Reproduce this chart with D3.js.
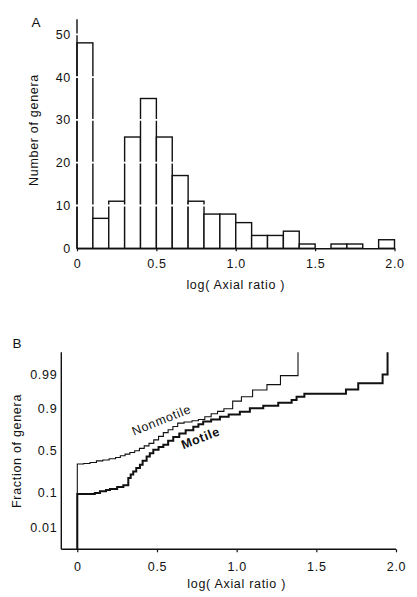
<!DOCTYPE html>
<html><head><meta charset="utf-8">
<script src="https://cdn.jsdelivr.net/npm/d3@7"></script>
<style>body{margin:0;background:#fff}svg{display:block;font-family:"Liberation Sans",Arial,Helvetica,sans-serif}svg text{letter-spacing:0.7px}</style>
</head><body><svg id="c" width="417" height="597"></svg>
<script>
// ---- Panel A data: histogram of log(axial ratio), bins of width 0.1 ----
const binStart = [0.0,0.1,0.2,0.3,0.4,0.5,0.6,0.7,0.8,0.9,1.0,1.1,1.2,1.3,1.4,1.5,1.6,1.7,1.8,1.9];
const binEnd   = [0.1,0.2,0.3,0.4,0.5,0.6,0.7,0.8,0.9,1.0,1.1,1.2,1.3,1.4,1.5,1.6,1.7,1.8,1.9,2.0];
const genusCounts = [48,7,11,26,35,26,17,11,8,8,6,3,3,4,1,0,1,1,0,2];
const countTicks = [0,10,20,30,40,50];
const xTicks = [0,0.5,1.0,1.5,2.0];
const xTickLabels = ["0","0.5","1.0","1.5","2.0"];

// ---- Panel B data: cumulative fraction of genera ----
const nonmotileX    = [0, 0, 0.04, 0.08, 0.12, 0.16, 0.2, 0.24, 0.27, 0.3, 0.33, 0.36, 0.39, 0.42, 0.45, 0.48, 0.51, 0.54, 0.57, 0.6, 0.63, 0.67, 0.72, 0.76, 0.8, 0.84, 0.88, 0.92, 0.975, 1.03, 1.1, 1.19, 1.275, 1.385];
const nonmotileFrac = [0, 0.343, 0.35, 0.36, 0.38, 0.39, 0.405, 0.42, 0.44, 0.46, 0.48, 0.5, 0.53, 0.56, 0.59, 0.63, 0.67, 0.71, 0.74, 0.77, 0.8, 0.81, 0.82, 0.83, 0.85, 0.87, 0.885, 0.9, 0.935, 0.95, 0.968, 0.978, 0.989, 1];
const motileX    = [0, 0, 0.11, 0.142, 0.18, 0.205, 0.25, 0.289, 0.32, 0.335, 0.351, 0.37, 0.393, 0.41, 0.435, 0.455, 0.477, 0.51, 0.54, 0.57, 0.602, 0.64, 0.68, 0.728, 0.76, 0.79, 0.84, 0.895, 0.95, 1.02, 1.083, 1.167, 1.261, 1.345, 1.376, 1.425, 1.686, 1.763, 1.916, 1.947];
const motileFrac = [0, 0.094, 0.1, 0.109, 0.116, 0.123, 0.135, 0.147, 0.204, 0.235, 0.265, 0.3, 0.336, 0.38, 0.431, 0.47, 0.512, 0.545, 0.572, 0.62, 0.664, 0.7, 0.735, 0.769, 0.79, 0.813, 0.83, 0.851, 0.865, 0.883, 0.902, 0.915, 0.928, 0.939, 0.95, 0.959, 0.969, 0.98, 0.99, 1];
const fracTicks = [0.99, 0.9, 0.5, 0.1, 0.01];
const fracTickLabels = ["0.99","0.9","0.5","0.1","0.01"];

// inverse normal CDF (Acklam)
function probit(p){
  if (p <= 0) return -Infinity; if (p >= 1) return Infinity;
  const a=[-3.969683028665376e+01,2.209460984245205e+02,-2.759285104469687e+02,1.383577518672690e+02,-3.066479806614716e+01,2.506628277459239e+00];
  const b=[-5.447609879822406e+01,1.615858368580409e+02,-1.556989798598866e+02,6.680131188771972e+01,-1.328068155288572e+01];
  const c=[-7.784894002430293e-03,-3.223964580411365e-01,-2.400758277161838e+00,-2.549671010029484e+00,4.374664141464968e+00,2.938163982698783e+00];
  const d=[7.784695709041462e-03,3.224671290700398e-01,2.445134137142996e+00,3.754408661907416e+00];
  const pl=0.02425;
  let q,r;
  if (p<pl){q=Math.sqrt(-2*Math.log(p));return (((((c[0]*q+c[1])*q+c[2])*q+c[3])*q+c[4])*q+c[5])/((((d[0]*q+d[1])*q+d[2])*q+d[3])*q+1);}
  if (p>1-pl){q=Math.sqrt(-2*Math.log(1-p));return -(((((c[0]*q+c[1])*q+c[2])*q+c[3])*q+c[4])*q+c[5])/((((d[0]*q+d[1])*q+d[2])*q+d[3])*q+1);}
  q=p-0.5;r=q*q;
  return (((((a[0]*r+a[1])*r+a[2])*r+a[3])*r+a[4])*r+a[5])*q/(((((b[0]*r+b[1])*r+b[2])*r+b[3])*r+b[4])*r+1);
}

const svg = d3.select("#c");
const ink = "#111";
const fs = 12.5;

// ================= Panel A =================
const xA = d3.scaleLinear().domain([0,2]).range([77,394.5]);
const yA = d3.scaleLinear().domain([0,50]).range([248.3,34.3]);
const gA = svg.append("g");

gA.selectAll("rect.bar").data(genusCounts.map((v,i)=>({x0:binStart[i],x1:binEnd[i],v})).filter(d=>d.v>0))
  .enter().append("rect").attr("class","bar")
  .attr("x",d=>xA(d.x0)).attr("width",d=>xA(d.x1)-xA(d.x0))
  .attr("y",d=>yA(d.v)).attr("height",d=>yA(0)-yA(d.v))
  .attr("fill","#fff").attr("stroke",ink).attr("stroke-width",1.4);

// y axis line
gA.append("line").attr("x1",xA(0)).attr("x2",xA(0)).attr("y1",yA(0)).attr("y2",yA(53.5))
  .attr("stroke",ink).attr("stroke-width",1.4);
// white tick gaps
gA.selectAll("line.gap").data(countTicks.filter(t=>t>0)).enter().append("line").attr("class","gap")
  .attr("x1",xA(0)-3).attr("x2",xA(2)+2).attr("y1",d=>yA(d)).attr("y2",d=>yA(d))
  .attr("stroke","#fff").attr("stroke-width",1.8);

const axAx = d3.axisBottom(xA).tickValues(xTicks).tickFormat((d,i)=>xTickLabels[i]).tickSize(3).tickSizeOuter(0).tickPadding(8);
gA.append("g").attr("transform",`translate(0,${yA(0)})`).call(axAx)
  .call(g=>{g.select(".domain").attr("stroke",ink).attr("stroke-width",1.4);g.selectAll(".tick line").attr("stroke",ink).attr("stroke-width",1.2);
    g.selectAll("text").attr("font-size",fs).attr("fill",ink).attr("font-family",null);});
const ayAx = d3.axisLeft(yA).tickValues(countTicks).tickSize(0).tickPadding(6);
gA.append("g").attr("transform",`translate(${xA(0)},0)`).call(ayAx)
  .call(g=>{g.select(".domain").remove();g.selectAll("text").attr("font-size",fs).attr("fill",ink).attr("font-family",null);});

gA.append("text").attr("x",31.5).attr("y",27).attr("font-size",13.5).attr("fill",ink).text("A");
gA.append("text").attr("transform","translate(37.5,130) rotate(-90)").attr("text-anchor","middle")
  .attr("font-size",fs).attr("fill",ink).text("Number of genera");
gA.append("text").attr("x",xA(1)).attr("y",288.5).attr("text-anchor","middle").attr("font-size",fs).attr("fill",ink).text("log( Axial ratio )");

// ================= Panel B =================
const xB = d3.scaleLinear().domain([0,2]).range([77.3,396]);
const zB = d3.scaleLinear().domain([-3,3]).range([549.3,352.3]);
const yFrac = p => zB(Math.max(-3, Math.min(3, probit(p))));
const gB = svg.append("g");

// axes
gB.append("line").attr("x1",61.3).attr("x2",61.3).attr("y1",zB(-3)).attr("y2",zB(3)).attr("stroke",ink).attr("stroke-width",1.4);
gB.append("line").attr("x1",61.3).attr("x2",xB(2)).attr("y1",zB(-3)).attr("y2",zB(-3)).attr("stroke",ink).attr("stroke-width",1.4);
const bxAx = d3.axisBottom(xB).tickValues(xTicks).tickFormat((d,i)=>xTickLabels[i]).tickSize(3).tickSizeOuter(0).tickPadding(9.5);
gB.append("g").attr("transform",`translate(0,${zB(-3)})`).call(bxAx)
  .call(g=>{g.select(".domain").remove();g.selectAll(".tick line").attr("stroke",ink).attr("stroke-width",1.2);
    g.selectAll("text").attr("font-size",fs).attr("fill",ink).attr("font-family",null);});
const byAx = d3.axisLeft(zB).tickValues(fracTicks.map(probit)).tickFormat((d,i)=>fracTickLabels[i]).tickSize(0).tickPadding(4);
gB.append("g").attr("transform","translate(61.3,0)").call(byAx)
  .call(g=>{g.select(".domain").remove();g.selectAll("text").attr("font-size",fs).attr("fill",ink).attr("font-family",null);});

const stepLine = d3.line().x(d=>xB(d[0])).y(d=>yFrac(d[1])).curve(d3.curveStepAfter);
gB.append("path").datum(nonmotileX.map((x,i)=>[x,nonmotileFrac[i]]))
  .attr("d",stepLine).attr("fill","none").attr("stroke",ink).attr("stroke-width",1.1);
gB.append("path").datum(motileX.map((x,i)=>[x,motileFrac[i]]))
  .attr("d",stepLine).attr("fill","none").attr("stroke",ink).attr("stroke-width",2);

gB.append("text").attr("transform","translate(163,424) rotate(-22)").attr("text-anchor","middle")
  .attr("font-size",fs).attr("fill",ink).text("Nonmotile");
gB.append("text").attr("transform","translate(202,442) rotate(-21)").attr("text-anchor","middle")
  .attr("font-size",fs).attr("font-weight","bold").attr("fill",ink).text("Motile");

gB.append("text").attr("x",12.5).attr("y",348).attr("font-size",13.5).attr("fill",ink).text("B");
gB.append("text").attr("transform","translate(21,451) rotate(-90)").attr("text-anchor","middle")
  .attr("font-size",fs).attr("fill",ink).text("Fraction of genera");
gB.append("text").attr("x",xB(1)).attr("y",588).attr("text-anchor","middle").attr("font-size",fs).attr("fill",ink).text("log( Axial ratio )");
</script></body></html>
